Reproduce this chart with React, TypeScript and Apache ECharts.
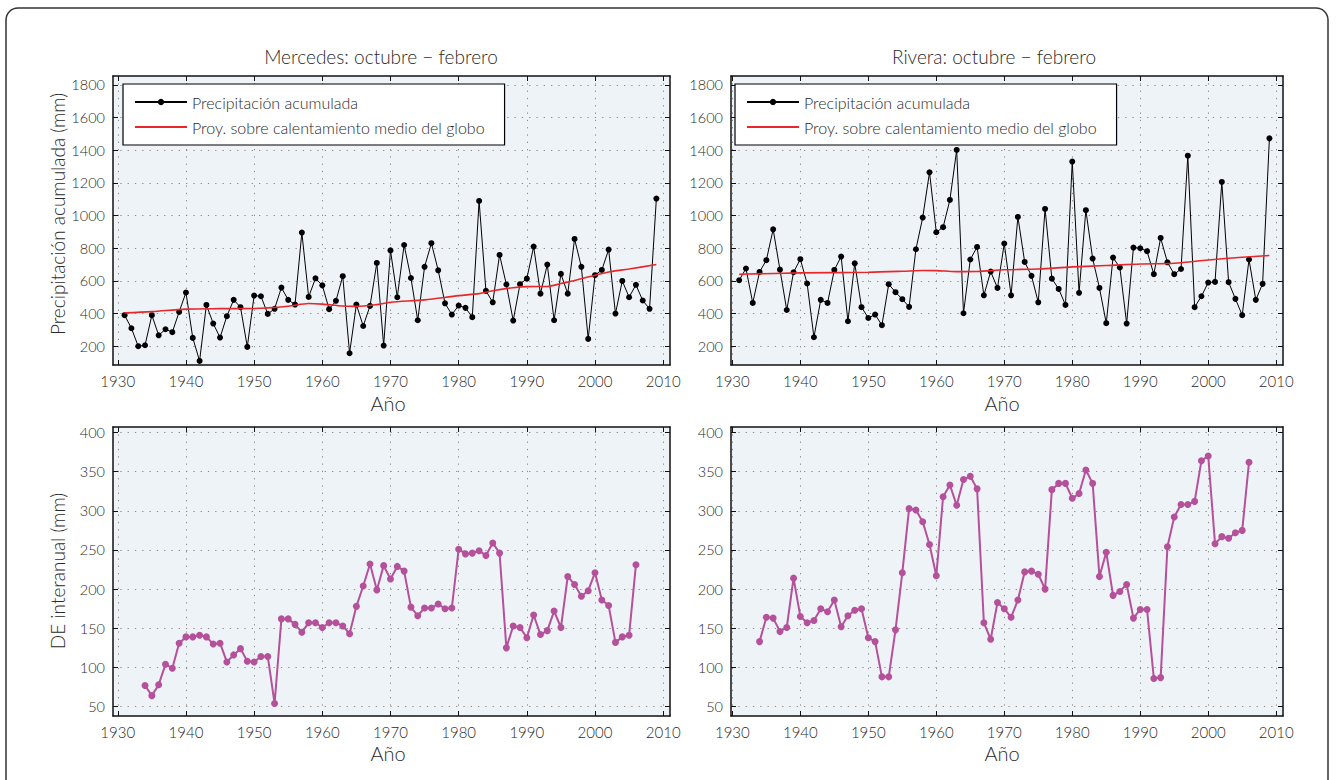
import React, { useEffect, useRef } from "react";
import * as echarts from "echarts";

const FONT = "Lato, 'Open Sans', sans-serif";
const TEXT = "#2a2a2a";

// ---- data ----
const PRECIP_START = 1931;
const mercedesPrecip = [
  390, 310, 200, 206, 390, 267, 304, 286, 410, 529,
  251, 110, 453, 339, 253, 384, 484, 439, 196, 510,
  506, 398, 429, 559, 484, 455, 896, 502, 616, 573,
  427, 478, 629, 157, 455, 324, 447, 710, 204, 787,
  500, 820, 618, 359, 686, 831, 665, 463, 394, 449,
  435, 378, 1090, 539, 469, 759, 578, 357, 580, 614,
  810, 522, 700, 359, 643, 522, 857, 686, 245, 635,
  667, 792, 400, 600, 500, 576, 480, 429, 1104,
];
const riveraPrecip = [
  604, 676, 465, 655, 727, 916, 669, 422, 653, 733,
  584, 255, 484, 465, 667, 749, 353, 708, 439, 373,
  394, 329, 580, 531, 488, 441, 794, 988, 1265, 898,
  929, 1096, 1402, 402, 731, 808, 512, 657, 557, 829,
  512, 992, 716, 631, 469, 1041, 614, 551, 453, 1331,
  527, 1033, 737, 557, 341, 743, 682, 339, 804, 800,
  782, 641, 863, 714, 641, 673, 1367, 439, 506, 590,
  594, 1206, 592, 490, 390, 731, 484, 582, 1473,
];
const mercedesTrend = [
  [1931, 404], [1935, 412], [1940, 427], [1945, 430], [1950, 431], [1955, 445],
  [1958, 462], [1960, 458], [1963, 446], [1965, 444], [1968, 455], [1970, 469],
  [1975, 484], [1980, 510], [1983, 522], [1985, 540], [1988, 558], [1990, 565],
  [1993, 566], [1995, 584], [1997, 602], [2000, 635], [2002, 655], [2005, 673],
  [2009, 700],
];
const riveraTrend = [
  [1931, 641], [1940, 649], [1950, 653], [1955, 659], [1958, 664], [1960, 663],
  [1963, 657], [1966, 658], [1970, 668], [1975, 673], [1980, 686], [1985, 694],
  [1990, 704], [1995, 708], [2000, 728], [2005, 745], [2009, 756],
];
const DE_START = 1934;
const mercedesDE = [
  77, 64, 78, 104, 99, 131, 139,
  139, 141, 139, 130, 131, 107, 116, 124, 108, 107,
  114, 114, 54, 162, 162, 155, 145, 157, 157, 151,
  157, 157, 153, 143, 178, 204, 232, 199, 230, 213,
  229, 223, 177, 166, 176, 176, 181, 175, 176, 251,
  245, 246, 249, 243, 259, 246, 125, 153, 151, 138,
  167, 142, 147, 172, 151, 216, 206, 191, 198, 221,
  186, 179, 132, 139, 141, 231,
];
const riveraDE = [
  133, 164, 163, 146, 151, 214, 165,
  157, 160, 175, 171, 186, 152, 166, 173, 175, 138,
  133, 88, 88, 148, 221, 303, 301, 286, 257, 217,
  318, 333, 307, 340, 344, 328, 157, 136, 183, 175,
  164, 186, 222, 223, 219, 200, 327, 335, 335, 316,
  322, 352, 335, 216, 247, 192, 197, 206, 163, 174,
  174, 86, 87, 254, 292, 308, 308, 312, 364, 370,
  258, 267, 265, 272, 275, 362,
];
const xTicks = [1930, 1940, 1950, 1960, 1970, 1980, 1990, 2000, 2010];
const precipTicks = [200, 400, 600, 800, 1000, 1200, 1400, 1600, 1800];
const deTicks = [50, 100, 150, 200, 250, 300, 350, 400];

const SERIES_PRECIP = "Precipitación acumulada";
const SERIES_TREND = "Proy. sobre calentamiento medio del globo";

function pairs(start: number, values: number[]) {
  return values.map((v, i) => [start + i, v]);
}

const GRIDS = [
  { left: 113, top: 76, width: 557, height: 289, xmin: 1929.3, xmax: 2011, ymin: 85, ymax: 1855, yt: precipTicks },
  { left: 731, top: 76, width: 552, height: 289, xmin: 1929.8, xmax: 2011, ymin: 85, ymax: 1855, yt: precipTicks },
  { left: 113, top: 427, width: 557, height: 289, xmin: 1929.3, xmax: 2011, ymin: 38, ymax: 407, yt: deTicks },
  { left: 731, top: 427, width: 552, height: 289, xmin: 1929.8, xmax: 2011, ymin: 38, ymax: 407, yt: deTicks },
];

const DOT_LINE = { type: [1.3, 6] as any, color: "#8c8c8c", width: 1 };
const AXIS_LINE = { show: true, onZero: false, lineStyle: { color: "#111", width: 1.5 } };

export default function App() {
  const ref = useRef<HTMLDivElement>(null);

  useEffect(() => {
    document.body.style.margin = "0";
    if (!ref.current) return;
    const chart = echarts.init(ref.current, undefined, { renderer: "svg" });

    const grid: any[] = [];
    const xAxis: any[] = [];
    const yAxis: any[] = [];
    GRIDS.forEach((g, i) => {
      grid.push({
        left: g.left, top: g.top, width: g.width, height: g.height,
        show: true, backgroundColor: "#eef3f8", borderWidth: 0,
      });
      xAxis.push({
        type: "value", gridIndex: i, position: "bottom", min: g.xmin, max: g.xmax,
        axisLine: AXIS_LINE,
        axisTick: { show: true, inside: true, length: 5, customValues: xTicks, lineStyle: { color: "#111" } },
        axisLabel: {
          customValues: xTicks, color: TEXT, fontSize: 15, fontFamily: FONT, fontWeight: 300, margin: 8,
          formatter: (v: number) => String(v),
        },
        splitLine: { show: true, lineStyle: DOT_LINE },
      });
      xAxis.push({
        type: "value", gridIndex: i, position: "top", min: g.xmin, max: g.xmax,
        axisLine: AXIS_LINE,
        axisTick: { show: true, inside: true, length: 5, customValues: xTicks, lineStyle: { color: "#111" } },
        axisLabel: { show: false },
        splitLine: { show: false },
      });
      yAxis.push({
        type: "value", gridIndex: i, position: "left", min: g.ymin, max: g.ymax,
        axisLine: AXIS_LINE,
        axisTick: { show: true, inside: true, length: 5, customValues: g.yt, lineStyle: { color: "#111" } },
        axisLabel: {
          customValues: g.yt, color: TEXT, fontSize: 14.5, fontFamily: FONT, fontWeight: 300, margin: 8,
          formatter: (v: number) => String(v),
        },
        splitLine: { show: true, lineStyle: DOT_LINE },
      });
      yAxis.push({
        type: "value", gridIndex: i, position: "right", min: g.ymin, max: g.ymax,
        axisLine: AXIS_LINE,
        axisTick: { show: true, inside: true, length: 5, customValues: g.yt, lineStyle: { color: "#111" } },
        axisLabel: { show: false },
        splitLine: { show: false },
      });
    });

    const precipSeries = (i: number, vals: number[]) => ({
      type: "line", name: SERIES_PRECIP, xAxisIndex: 2 * i, yAxisIndex: 2 * i,
      data: pairs(PRECIP_START, vals), symbol: "circle", symbolSize: 6, showSymbol: true,
      itemStyle: { color: "#000" }, lineStyle: { color: "#000", width: 1 }, z: 3,
    });
    const trendSeries = (i: number, vals: number[][]) => ({
      type: "line", name: SERIES_TREND, xAxisIndex: 2 * i, yAxisIndex: 2 * i,
      data: vals, symbol: "none", smooth: 0.3,
      itemStyle: { color: "#e8272b" }, lineStyle: { color: "#e8272b", width: 1.6 }, z: 4,
    });
    const deSeries = (i: number, vals: number[]) => ({
      type: "line", name: "DE interanual", xAxisIndex: 2 * i, yAxisIndex: 2 * i,
      data: pairs(DE_START, vals), symbol: "circle", symbolSize: 7, showSymbol: true,
      itemStyle: { color: "#b5509a" }, lineStyle: { color: "#b5509a", width: 2 }, z: 3,
    });

    const legendBase = {
      orient: "vertical", align: "left", itemWidth: 52, itemHeight: 8, itemGap: 9,
      backgroundColor: "#fff", borderColor: "#000", borderWidth: 1.2, borderRadius: 0,
      padding: [10, 20, 10, 11],
      data: [
        { name: SERIES_PRECIP },
        { name: SERIES_TREND, itemStyle: { opacity: 0 } },
      ],
      textStyle: { color: TEXT, fontSize: 16, fontFamily: FONT, fontWeight: 300 },
      selectedMode: false,
    };

    const textEl = (text: string, x: number, y: number, size: number, rotate = 0) => ({
      type: "text", x, y, rotation: rotate,
      style: { text, fill: TEXT, font: `300 ${size}px ${FONT}`, align: "center", verticalAlign: "middle" },
      z: 10,
    });

    chart.setOption({
      animation: false,
      grid, xAxis, yAxis,
      legend: [
        { ...legendBase, left: 123, top: 84 },
        { ...legendBase, left: 735, top: 84 },
      ],
      series: [
        precipSeries(0, mercedesPrecip),
        trendSeries(0, mercedesTrend),
        precipSeries(1, riveraPrecip),
        trendSeries(1, riveraTrend),
        deSeries(2, mercedesDE),
        deSeries(3, riveraDE),
      ],
      graphic: [
        {
          type: "rect", shape: { x: 6, y: 8, width: 1322, height: 800, r: 12 },
          style: { fill: "none", stroke: "#333", lineWidth: 1.5 }, z: -1, silent: true,
        },
        textEl("Mercedes: octubre − febrero", 381, 56, 19),
        textEl("Rivera: octubre − febrero", 994, 56, 19),
        textEl("Año", 388, 403, 20),
        textEl("Año", 1002, 403, 20),
        textEl("Año", 388, 753, 20),
        textEl("Año", 1002, 753, 20),
        textEl("Precipitación acumulada (mm)", 57, 214, 19, Math.PI / 2),
        textEl("DE interanual (mm)", 57, 571, 19, Math.PI / 2),
      ],
    });

    return () => chart.dispose();
  }, []);

  return <div ref={ref} style={{ width: 1336, height: 780 }} />;
}
